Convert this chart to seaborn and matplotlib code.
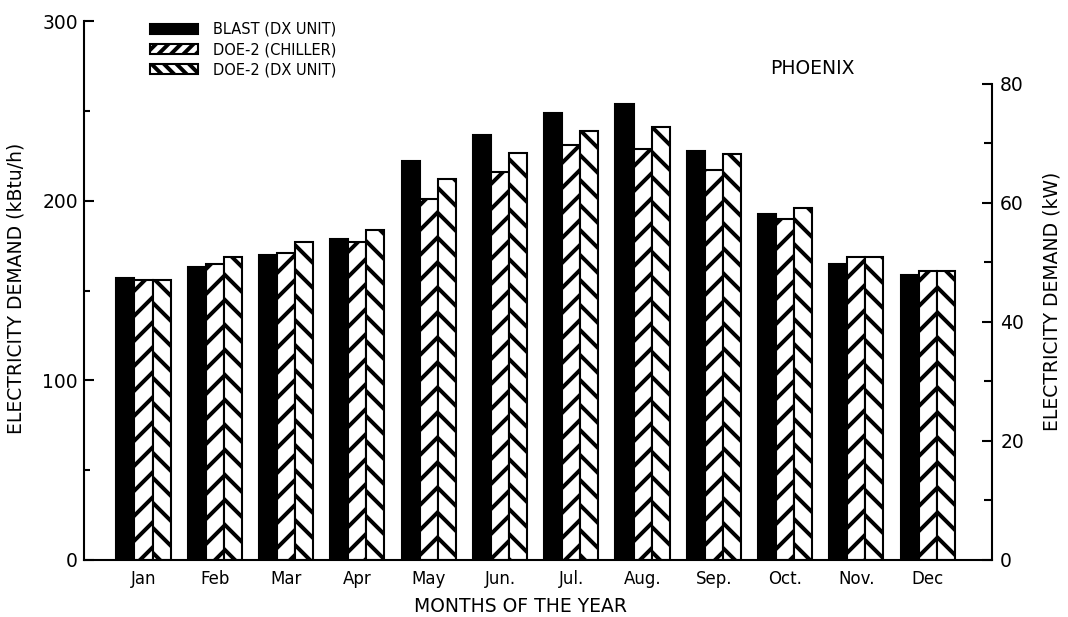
import numpy as np
import pandas as pd
import matplotlib
matplotlib.use("Agg")
import matplotlib.pyplot as plt
import seaborn as sns
from matplotlib.patches import Patch
from matplotlib.ticker import FixedLocator

# Monthly peak electricity demand, Phoenix (kBtu/h)
months = ["Jan", "Feb", "Mar", "Apr", "May", "Jun.", "Jul.", "Aug.", "Sep.", "Oct.", "Nov.", "Dec"]
series = ["BLAST (DX UNIT)", "DOE-2 (CHILLER)", "DOE-2 (DX UNIT)"]
blast_dx = [157, 163, 170, 179, 222, 237, 249, 254, 228, 193, 165, 159]
doe2_chiller = [156, 165, 171, 177, 201, 216, 231, 229, 217, 190, 169, 161]
doe2_dx = [156, 169, 177, 184, 212, 227, 239, 241, 226, 196, 169, 161]

left_ticks = [0, 100, 200, 300]
left_minor = [50, 150, 250]
right_ticks = [0, 20, 40, 60, 80]
right_minor = [10, 30, 50, 70]

sns.set_style("white")
plt.rcParams["font.family"] = ["DejaVu Sans"]
plt.rcParams["hatch.linewidth"] = 1.9
for key in ("text.color", "axes.labelcolor", "xtick.color", "ytick.color", "axes.edgecolor"):
    plt.rcParams[key] = "black"

df = pd.DataFrame({
    "month": months * 3,
    "series": np.repeat(series, len(months)),
    "value": blast_dx + doe2_chiller + doe2_dx,
})

fig = plt.figure(figsize=(7.12, 617 / 150), dpi=150)
ax = fig.add_axes([0.0787, 0.0924, 0.850, 0.8728])

sns.barplot(
    data=df, x="month", y="value", hue="series",
    order=months, hue_order=series,
    palette=["black", "white", "white"], saturation=1,
    width=0.76, dodge=True, gap=0,
    edgecolor="black", linewidth=1.0,
    errorbar=None, legend=False, ax=ax,
)

hatches = [None, "//", "\\\\"]
for container, hatch in zip(ax.containers, hatches):
    for bar in container:
        bar.set_hatch(hatch)

ax.set_xlim(-0.834, 11.90)
ax.set_ylim(0, 300)
ax.set_yticks(left_ticks)
ax.yaxis.set_minor_locator(FixedLocator(left_minor))
ax.tick_params(axis="y", which="major", direction="in", length=5, width=1.0,
               labelsize=9, pad=3)
ax.tick_params(axis="y", which="minor", direction="in", length=3, width=1.0)
ax.tick_params(axis="x", length=0, labelsize=8, pad=5)

for side in ("top", "right"):
    ax.spines[side].set_visible(False)
for side in ("left", "bottom"):
    ax.spines[side].set_linewidth(1.0)
ax.spines["left"].set_bounds(0, 300)

ax.set_xlabel("MONTHS OF THE YEAR", fontsize=9)
ax.xaxis.set_label_coords((521 - 84) / 908, -0.068)
ax.set_ylabel("ELECTRICITY DEMAND (kBtu/h)", fontsize=9)
ax.yaxis.set_label_coords(-0.064, 0.505)

# Secondary scale in kW
ax2 = ax.twinx()
ax2.set_ylim(0, 90.5)
ax2.set_yticks(right_ticks)
ax2.yaxis.set_minor_locator(FixedLocator(right_minor))
ax2.tick_params(axis="y", which="major", direction="in", length=5, width=1.0,
                labelsize=9, pad=4)
ax2.tick_params(axis="y", which="minor", direction="in", length=4, width=1.0)
for side in ("top", "left", "bottom"):
    ax2.spines[side].set_visible(False)
ax2.spines["right"].set_linewidth(1.0)
ax2.spines["right"].set_bounds(0, 80)
ax2.set_ylabel("ELECTRICITY DEMAND (kW)", fontsize=9)
ax2.yaxis.set_label_coords(1.056, 0.48)

ax.text(9.38, 274, "PHOENIX", fontsize=9, ha="center", va="center")

handles = [
    Patch(facecolor="black", edgecolor="black", label=series[0]),
    Patch(facecolor="white", edgecolor="black", hatch="////", label=series[1]),
    Patch(facecolor="white", edgecolor="black", hatch="\\\\\\\\", label=series[2]),
]
ax2.legend(handles=handles, loc="upper left",
           bbox_to_anchor=(150 / 1068, 1 - 22 / 617), bbox_transform=fig.transFigure,
           frameon=False, fontsize=7, handlelength=3.3, handleheight=0.7,
           handletextpad=1.0, labelspacing=0.35, borderpad=0, borderaxespad=0)

fig.savefig("out.png", dpi=150)
